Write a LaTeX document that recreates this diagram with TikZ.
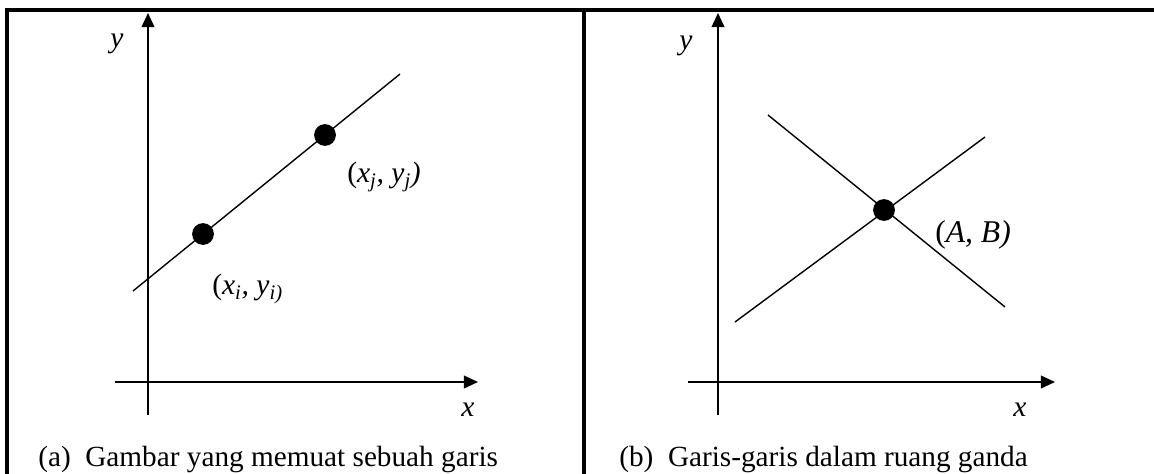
\documentclass[tikz,border=0pt]{standalone}
\usepackage{fontspec}
\setmainfont{Liberation Serif}
\usetikzlibrary{arrows.meta, positioning}

\begin{document}
\begin{tikzpicture}[
    x=0.025cm, y=-0.025cm,
    frame/.style={line width=2.2pt},
    axis/.style={-{Triangle[length=10pt, width=9pt]}, line width=1.3pt},
    garis/.style={line width=1pt},
    titik/.style={circle, fill=black, inner sep=0pt, minimum size=15.5pt},
    lbl/.style={font=\fontsize{21}{25}\selectfont\itshape, inner sep=0pt},
    judul/.style={font=\fontsize{20.8}{25}\selectfont, inner sep=0pt, anchor=base west},
]
\useasboundingbox (0,0) rectangle (1154,473);

% Bingkai
\draw[frame] (7,480) -- (7,10) -- (1170,10);
\draw[frame] (584,10) -- (584,480);

%% Panel (a)
% Sumbu
\coordinate (ay0) at (148,415);
\coordinate (ay1) at (148,13);
\coordinate (ax0) at (115,382);
\coordinate (ax1) at (478,382);
\draw[axis] (ay0) -- (ay1);
\draw[axis] (ax0) -- (ax1);
\node[lbl] (ylbla) at (117,44) {y};
\node[lbl] (xlbla) at (468,410) {x};

% Garis dan titik
\coordinate (ga0) at (133,291);
\coordinate (ga1) at (400,74);
\draw[garis] (ga0) -- (ga1);
\node[titik] (pi) at (203,234) {};
\node[titik] (pj) at (325,135) {};
\node[lbl, anchor=west] (lj) at (347,177)
    {\upshape(\itshape x\textsubscript{j}, y\textsubscript{j})};
\node[lbl, anchor=west] (li) at (212,289)
    {\upshape(\itshape x\textsubscript{i}, y\textsubscript{i)}};

\node[judul] (capa) at (38,466) {(a)\ \ Gambar yang memuat sebuah garis};

%% Panel (b)
% Sumbu
\coordinate (by0) at (718,415);
\coordinate (by1) at (718,13);
\coordinate (bx0) at (688,382);
\coordinate (bx1) at (1055,382);
\draw[axis] (by0) -- (by1);
\draw[axis] (bx0) -- (bx1);
\node[lbl] (ylblb) at (686,46) {y};
\node[lbl] (xlblb) at (1020,410) {x};

% Dua garis berpotongan
\coordinate (gb0) at (735,322);
\coordinate (gb1) at (985,137);
\coordinate (gc0) at (768,115);
\coordinate (gc1) at (1005,307);
\draw[garis] (gb0) -- (gb1);
\draw[garis] (gc0) -- (gc1);
\node[titik] (pab) at (884,210) {};
\node[lbl, anchor=west, font=\fontsize{22.5}{27}\selectfont\itshape] (lab) at (935,235)
    {\upshape(\itshape A, B)};

\node[judul] (capb) at (619,466) {(b)\ \ Garis-garis dalam ruang ganda};
\end{tikzpicture}
\end{document}
